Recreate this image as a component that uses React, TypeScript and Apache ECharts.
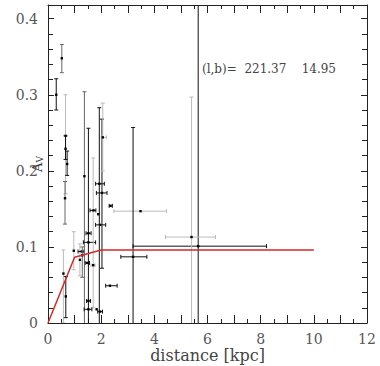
import React, { useEffect, useRef } from "react";
import * as echarts from "echarts";

// distance [kpc], A_V, error bounds, shade (0 dark, 1 mid, 2 light)
const distX = [0.52, 0.31, 0.66, 0.66, 0.72, 0.64, 0.58, 0.67, 0.97, 1.2, 1.27, 1.37, 1.52, 1.52, 1.48, 1.7, 1.71, 1.89, 1.96, 2.03, 2.06, 1.93, 1.52, 1.52, 1.83, 1.96, 2.33, 2.35, 3.48, 3.2, 5.65, 5.4, 1.29];
const av =    [0.348, 0.3, 0.246, 0.229, 0.209, 0.164, 0.065, 0.035, 0.095, 0.083, 0.094, 0.193, 0.118, 0.106, 0.079, 0.076, 0.148, 0.143, 0.129, 0.171, 0.244, 0.183, 0.029, 0.018, 0.018, 0.015, 0.049, 0.154, 0.147, 0.087, 0.101, 0.113, 0.089];
const avLo =  [0.329, 0.28, 0.17, 0.215, 0.194, 0.13, 0.0, 0.007, 0.07, 0.062, 0.094, -0.05, -0.05, 0.106, 0.079, 0.02, 0.148, 0.143, 0.129, 0.072, 0.2, -0.05, 0.029, 0.018, 0.018, 0.015, 0.049, 0.154, 0.147, -0.05, -0.1, -0.05, 0.06];
const avHi =  [0.366, 0.321, 0.3, 0.246, 0.226, 0.186, 0.096, 0.061, 0.12, 0.104, 0.094, 0.304, 0.256, 0.106, 0.079, 0.217, 0.148, 0.143, 0.129, 0.268, 0.289, 0.283, 0.029, 0.018, 0.018, 0.015, 0.049, 0.154, 0.147, 0.257, 0.6, 0.297, 0.1];
const distLo = [0.52, 0.31, 0.66, 0.66, 0.72, 0.64, 0.58, 0.67, 0.97, 1.2, 1.13, 1.37, 1.43, 1.33, 1.4, 1.62, 1.58, 1.89, 1.79, 1.82, 2.0, 1.79, 1.45, 1.36, 1.83, 1.87, 2.17, 2.3, 2.48, 2.74, 3.2, 4.42, 1.29];
const distHi = [0.52, 0.31, 0.66, 0.66, 0.72, 0.64, 0.58, 0.67, 0.97, 1.2, 1.35, 1.37, 1.62, 1.79, 1.56, 1.77, 1.8, 1.89, 2.17, 2.22, 2.2, 2.12, 1.6, 1.65, 1.83, 2.05, 2.6, 2.42, 4.46, 3.72, 8.22, 6.3, 1.29];
const shade = [1, 0, 2, 0, 0, 1, 2, 0, 2, 2, 0, 1, 0, 0, 0, 2, 0, 0, 0, 0, 2, 0, 0, 0, 0, 0, 0, 0, 2, 0, 0, 2, 1];

// model curve
const modelX = [0, 1.0, 2.0, 10.0];
const modelY = [0, 0.0865, 0.096, 0.096];

const xTicks = [0, 2, 4, 6, 8, 10, 12];

const COLORS = ["#111", "#666", "#bbb"];
const FONT = "'DejaVu Serif', serif";

export default function App() {
  const ref = useRef<HTMLDivElement>(null);
  useEffect(() => {
    const chart = echarts.init(ref.current!, null, { renderer: "svg" });
    const pts = distX.map((x, i) => [x, av[i], avLo[i], avHi[i], distLo[i], distHi[i], shade[i]]);
    const axisLabelStyle = { color: "#555", fontFamily: FONT, fontSize: 14 };
    const xBase = {
      type: "value",
      min: 0,
      max: 12,
      interval: 1,
      axisLine: { show: true, onZero: false, lineStyle: { color: "#222", width: 1 } },
      axisTick: { show: true, inside: true, length: 8, lineStyle: { color: "#222" } },
      minorTick: { show: true, splitNumber: 2, length: 4, lineStyle: { color: "#222" } },
      splitLine: { show: false },
    };
    const yBase = {
      type: "value",
      min: 0,
      max: 0.418,
      interval: 0.1,
      axisLine: { show: true, onZero: false, lineStyle: { color: "#222", width: 1 } },
      axisTick: { show: true, inside: true, length: 6, lineStyle: { color: "#222" } },
      minorTick: { show: true, splitNumber: 5, length: 5, lineStyle: { color: "#222" } },
      splitLine: { show: false },
    };
    chart.setOption({
      animation: false,
      backgroundColor: "#fff",
      grid: { left: 48, right: 13, top: 5, bottom: 43, containLabel: false, outerBoundsMode: "none" },
      xAxis: [
        {
          ...xBase,
          position: "bottom",
          name: "distance [kpc]",
          nameLocation: "middle",
          nameGap: 24,
          nameMoveOverlap: false,
          nameTextStyle: { color: "#444", fontFamily: FONT, fontSize: 16 },
          axisLabel: {
            ...axisLabelStyle,
            margin: 9,
            formatter: (v: number) => (xTicks.includes(v) ? String(v) : ""),
          },
        },
        { ...xBase, position: "top", axisLabel: { show: false } },
      ],
      yAxis: [
        {
          ...yBase,
          position: "left",
          name: "{a|A}{v|V}",
          nameLocation: "middle",
          nameGap: 4,
          nameRotate: 90,
          nameMoveOverlap: false,
          nameTextStyle: {
            rich: {
              a: { color: "#333", fontFamily: FONT, fontSize: 13 },
              v: { color: "#333", fontFamily: FONT, fontSize: 9, verticalAlign: "bottom", padding: [5, 0, 0, 0] },
            },
          },
          axisLabel: {
            ...axisLabelStyle,
            margin: 10,
            showMaxLabel: false,
            formatter: (v: number) => String(Math.round(v * 10) / 10),
          },
        },
        { ...yBase, position: "right", axisLabel: { show: false } },
      ],
      series: [
        {
          type: "custom",
          xAxisIndex: 0,
          yAxisIndex: 0,
          data: pts,
          renderItem: (params: any, api: any) => {
            const x = api.value(0), y = api.value(1);
            const ylo = api.value(2), yhi = api.value(3);
            const xlo = api.value(4), xhi = api.value(5);
            const col = COLORS[api.value(6)];
            const c = api.coord([x, y]);
            const lo = api.coord([x, ylo]);
            const hi = api.coord([x, yhi]);
            const l = api.coord([xlo, y]);
            const r = api.coord([xhi, y]);
            const st = { stroke: col, lineWidth: 1 };
            const children: any[] = [];
            if (yhi !== ylo) {
              children.push({ type: "line", shape: { x1: c[0], y1: lo[1], x2: c[0], y2: hi[1] }, style: st });
              children.push({ type: "line", shape: { x1: c[0] - 2, y1: lo[1], x2: c[0] + 2, y2: lo[1] }, style: st });
              children.push({ type: "line", shape: { x1: c[0] - 2, y1: hi[1], x2: c[0] + 2, y2: hi[1] }, style: st });
            }
            if (xhi !== xlo) {
              children.push({ type: "line", shape: { x1: l[0], y1: c[1], x2: r[0], y2: c[1] }, style: st });
              children.push({ type: "line", shape: { x1: l[0], y1: c[1] - 2, x2: l[0], y2: c[1] + 2 }, style: st });
              children.push({ type: "line", shape: { x1: r[0], y1: c[1] - 2, x2: r[0], y2: c[1] + 2 }, style: st });
            }
            children.push({ type: "rect", shape: { x: c[0] - 1.2, y: c[1] - 1.2, width: 2.4, height: 2.4 }, style: { fill: "#000" } });
            const cs = params.coordSys;
            return {
              type: "group",
              children,
              clipPath: { type: "rect", shape: { x: cs.x, y: cs.y, width: cs.width, height: cs.height } },
            };
          },
          z: 2,
        },
        {
          type: "line",
          xAxisIndex: 0,
          yAxisIndex: 0,
          data: modelX.map((x, i) => [x, modelY[i]]),
          symbol: "none",
          lineStyle: { color: "#d42a2a", width: 1.5 },
          z: 3,
        },
      ],
      graphic: [
        {
          type: "text",
          left: 202,
          top: 63,
          style: { text: "(l,b)=  221.37    14.95", fill: "#444", font: `12px 'DejaVu Serif', serif` },
        },
      ],
    });
    return () => chart.dispose();
  }, []);
  return <div ref={ref} style={{ position: "fixed", left: 0, top: 0, width: 380, height: 366 }} />;
}
